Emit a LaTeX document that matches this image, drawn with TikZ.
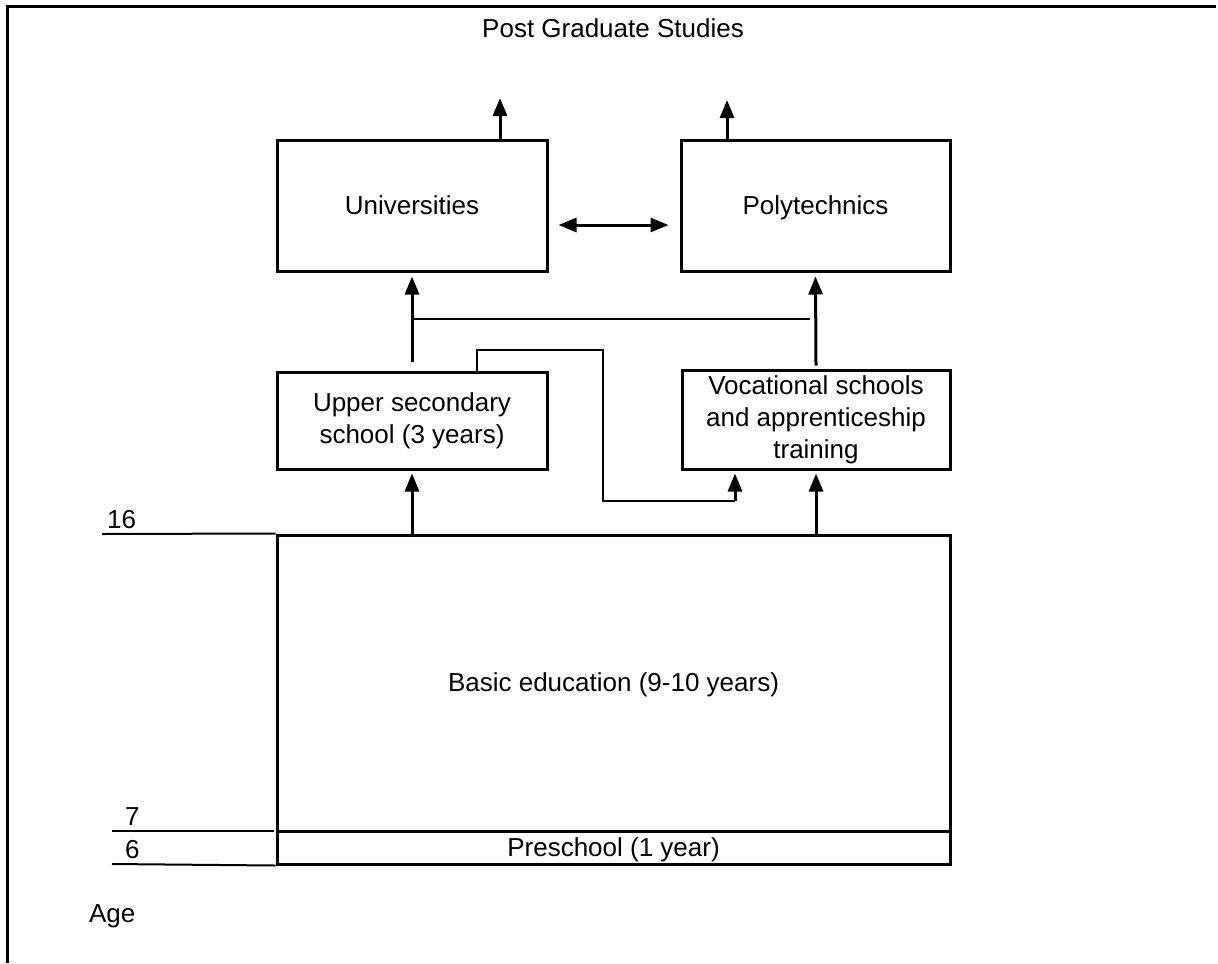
\documentclass[tikz,border=0pt]{standalone}
\usepackage{fontspec}
\setmainfont{Liberation Sans}
\usetikzlibrary{arrows.meta}

\begin{document}
\begin{tikzpicture}[x=0.5pt,y=-0.5pt,
    font=\fontsize{13}{16}\selectfont,
    box/.style={draw,line width=1.5pt,inner sep=0pt,align=center},
    onebox/.style={box,text height=1.9ex,text depth=0.2ex},
    arr/.style={line width=1.5pt,-{Triangle[width=7pt,length=9pt]}},
    dblarr/.style={line width=1.5pt,{Triangle[width=7pt,length=9pt]}-{Triangle[width=7pt,length=9pt]}},
    thinline/.style={line width=1pt}]
  \useasboundingbox (0,0) rectangle (1218,963);

  % Frame
  \draw[line width=1.5pt] (7,963) -- (7,7) -- (1216,7);

  % Boxes
  \node[onebox,minimum width=135pt,minimum height=65.5pt] (uni) at (412,205.5) {Universities};
  \node[onebox,minimum width=134.5pt,minimum height=65.5pt] (poly) at (815.5,205.5) {Polytechnics};
  \node[box,minimum width=135pt,minimum height=48.5pt] (upper) at (412,420.5) {Upper secondary\\school (3 years)};
  \node[box,minimum width=134pt,minimum height=49.5pt] (voc) at (816,419.5) {Vocational schools\\and apprenticeship\\training};
  \node[onebox,minimum width=336.5pt,minimum height=148pt] (basic) at (613.5,683) {Basic education (9-10 years)};
  \node[onebox,minimum width=336.5pt,minimum height=16.5pt] (pre) at (613.5,847.5) {Preschool (1 year)};

  % Labels
  \node (post) at (613,28) {Post Graduate Studies};
  \node[anchor=base west] (a16) at (100,528) {16};
  \node[anchor=base west] (a7) at (118,825) {7};
  \node[anchor=base west] (a6) at (118,858) {6};
  \node[anchor=base west] (age) at (82,922) {Age};

  % Age lines
  \coordinate (l16) at (102,534);
  \coordinate (l7) at (112,831);
  \coordinate (l7e) at (274,831);
  \coordinate (l6) at (112,864);
  \draw[thinline] (l16) -- (basic.north west);
  \draw[thinline] (l7) -- (l7e);
  \draw[thinline] (l6) -- (pre.south west);

  % Arrows to post graduate studies
  \coordinate (pg1) at (500,98);
  \coordinate (pg2) at (727,100);
  \draw[arr] (uni.north -| pg1) -- (pg1);
  \draw[arr] (poly.north -| pg2) -- (pg2);

  % Universities <-> Polytechnics
  \draw[dblarr] ([xshift=5pt,yshift=-9.75pt]uni.east) -- ([xshift=-5.5pt,yshift=-9.75pt]poly.west);

  % Upper level arrows
  \draw[arr] ([yshift=4.5pt]upper.north) -- ([yshift=-2pt]uni.south);
  \draw[arr] ([yshift=1.5pt]voc.north) -- ([yshift=-2pt]poly.south);
  \coordinate (h1) at (413,319);
  \coordinate (h2) at (810,319);
  \draw[thinline] (h1) -- (h2);

  % Upper secondary -> vocational
  \coordinate (b1) at (477,350);
  \coordinate (b2) at (603,350);
  \coordinate (b3) at (603,501);
  \coordinate (b4) at (735,501);
  \draw[thinline] (upper.north -| b1) -- (b1) -- (b2) -- (b3) -- (b4);
  \draw[arr] (b4) -- ([yshift=-1.5pt]voc.south -| b4);

  % Basic education arrows
  \draw[arr] (basic.north -| upper.south) -- ([yshift=-1.5pt]upper.south);
  \draw[arr] (basic.north -| voc.south) -- ([yshift=-1.5pt]voc.south);
\end{tikzpicture}
\end{document}
